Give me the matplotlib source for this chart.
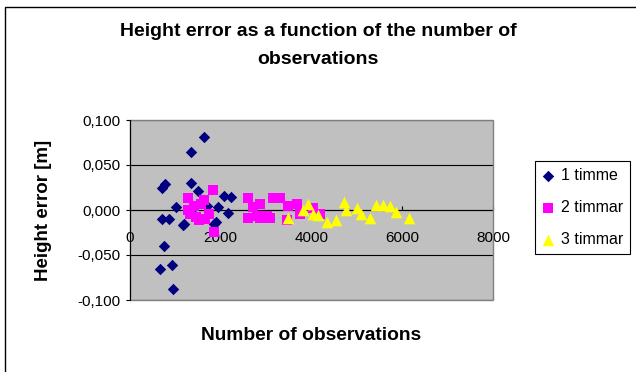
import matplotlib
matplotlib.use("Agg")
import matplotlib.pyplot as plt
from matplotlib.patches import Rectangle
from matplotlib.ticker import FuncFormatter, MultipleLocator

# values
obs_1h = [1640, 1345, 710, 780, 1345, 1490, 1013, 2070, 2220, 2170, 1935, 1900,
          695, 865, 1197, 740, 665, 925, 938, 1600, 1860, 1160, 1700, 1400]
err_1h = [0.081, 0.065, 0.025, 0.029, 0.030, 0.021, 0.003, 0.016, 0.014, -0.003,
          0.003, -0.013, -0.010, -0.010, -0.016, -0.040, -0.066, -0.061, -0.088,
          0.011, -0.015, -0.017, 0.005, -0.005]

obs_2h = [1270, 1270, 1330, 1565, 1640, 1825, 1530, 1750, 1860, 1400, 1450, 1650,
          2600, 2600, 2860, 2860, 3080, 3155, 3300, 3490, 3670, 3450, 4040, 4190,
          3750, 2790, 3010, 2700]
err_2h = [0.013, 0.000, -0.004, 0.007, 0.011, 0.022, -0.011, -0.004, -0.024, 0.005,
          -0.008, -0.010, 0.013, -0.009, 0.007, -0.009, -0.009, 0.013, 0.013, 0.004,
          0.007, -0.011, 0.002, -0.004, -0.004, -0.007, -0.007, 0.003]

obs_3h = [3490, 3930, 3820, 4040, 4150, 4340, 4545, 4710, 4770, 5000, 5080, 5280,
          5430, 5580, 5720, 5870, 6150]
err_3h = [-0.009, 0.007, 0.000, -0.004, -0.006, -0.013, -0.011, 0.009, 0.000, 0.002,
          -0.004, -0.009, 0.006, 0.006, 0.004, -0.002, -0.009]

series_labels = ["1 timme", "2 timmar", "3 timmar"]

plt.rcParams['font.family'] = ['Liberation Sans', 'DejaVu Sans']

fig = plt.figure(figsize=(6.36, 3.72), dpi=100)
ax = fig.add_axes([130 / 636, 72 / 372, 363 / 636, 180 / 372])
ax.set_facecolor('#C0C0C0')

ax.scatter(obs_1h, err_1h, marker='D', s=34, color='#000080', lw=0,
           label=series_labels[0], zorder=3)
ax.scatter(obs_2h, err_2h, marker='s', s=52, color='#FF00FF', lw=0,
           label=series_labels[1], zorder=3)
ax.scatter(obs_3h, err_3h, marker='^', s=70, color='#FFFF00', lw=0,
           label=series_labels[2], zorder=3)

ax.set_xlim(0, 8000)
ax.set_ylim(-0.1, 0.1)
ax.xaxis.set_major_locator(MultipleLocator(2000))
ax.yaxis.set_major_locator(MultipleLocator(0.05))
ax.yaxis.set_major_formatter(FuncFormatter(lambda v, p: f"{v:.3f}".replace('.', ',')))

# gridlines, x axis crosses at zero like in excel
ax.set_axisbelow(True)
ax.yaxis.grid(True, color='black', lw=0.8)
for side in ['top', 'right']:
    ax.spines[side].set_visible(False)
ax.spines['bottom'].set_position(('data', 0))
ax.spines['bottom'].set_color('black')
ax.spines['bottom'].set_linewidth(0.8)
ax.spines['left'].set_color('black')
ax.spines['left'].set_linewidth(0.8)
ax.spines['left'].set_zorder(4)
ax.add_patch(Rectangle((0, 0), 1, 1, transform=ax.transAxes, fill=False,
                       ec='#808080', lw=1.0, zorder=2.6, clip_on=False))

ax.tick_params(axis='x', direction='in', length=3, width=0.8, pad=15, labelsize=11)
ax.tick_params(axis='y', direction='out', length=3, width=0.8, pad=4, labelsize=11)

ax.set_xlabel("Number of observations", fontsize=13.8, fontweight='bold', labelpad=0)
ax.xaxis.set_label_coords(0.5, -0.15)
ax.set_ylabel("Height error [m]", fontsize=13.5, fontweight='bold')
ax.yaxis.set_label_coords(-0.215, 0.5)

fig.text(0.5, 1 - 32 / 372, "Height error as a function of the number of",
         ha='center', va='center', fontsize=14, fontweight='bold')
fig.text(0.5, 1 - 60 / 372, "observations",
         ha='center', va='center', fontsize=14, fontweight='bold')

leg = ax.legend(loc='upper left', bbox_to_anchor=(535 / 636, 1 - 161 / 372),
                bbox_transform=fig.transFigure, fontsize=11.5, frameon=True,
                fancybox=False, edgecolor='black', framealpha=1,
                handlelength=0.7, handletextpad=0.45, labelspacing=1.05,
                borderpad=0.45, borderaxespad=0)
leg.get_frame().set_linewidth(0.8)

# outer chart border, only the left and top edges show in the crop
fig.add_artist(Rectangle((5 / 636, -0.1), 1.2, 1.1 - 7 / 372,
                         transform=fig.transFigure, fill=False, ec='black', lw=1))

fig.savefig("out.png", dpi=100)
